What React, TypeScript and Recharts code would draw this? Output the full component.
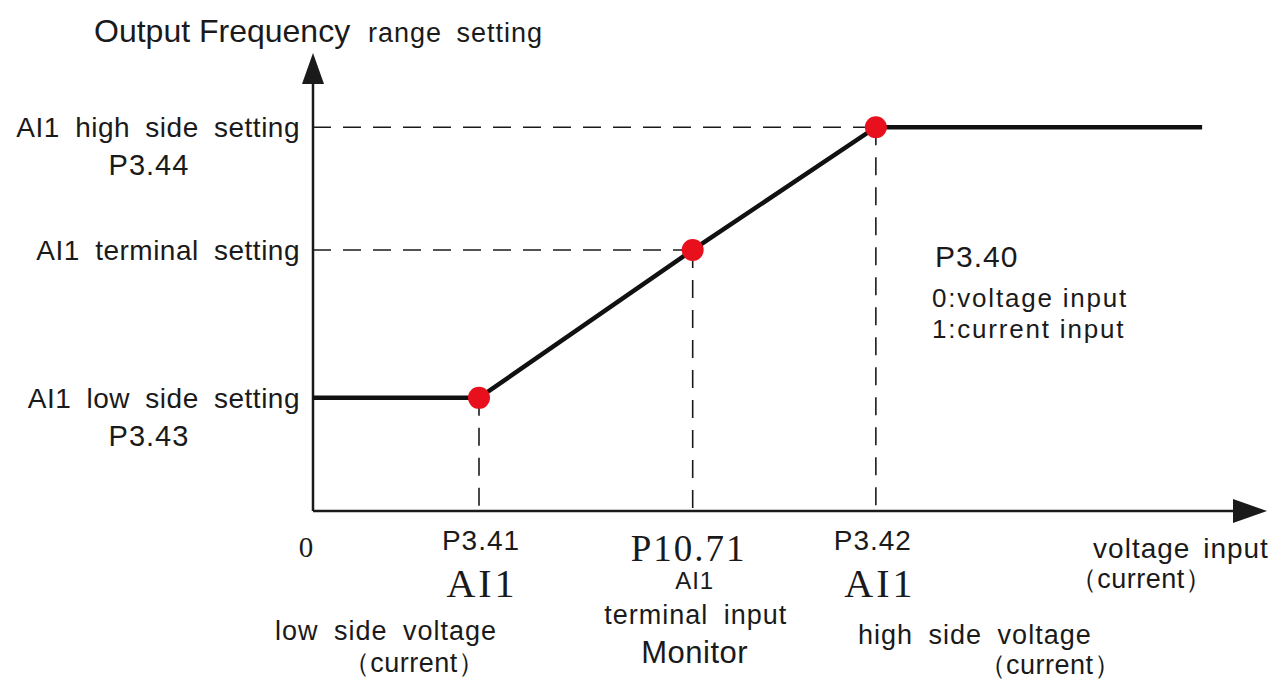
import { LineChart, Line, XAxis, YAxis, ReferenceLine } from 'recharts';

// input axis (0-100) and output frequency (0-100)
const inputX = [0, 17.4, 39.8, 59.0, 93.2];
const outputY = [24.7, 24.7, 57.0, 83.8, 83.8];
const markedIdx = [1, 2, 3];

const xTicks = [0, 17.4, 39.8, 59.0];
const xTickLabels = [
  ['0'],
  ['P3.41', 'AI1', 'low side voltage', '（current）'],
  ['P10.71', 'AI1', 'terminal input', 'Monitor'],
  ['P3.42', 'AI1', 'high side voltage', '（current）'],
];

const yTicks = [24.7, 57.0, 83.8];
const yTickLabels = [
  ['AI1 low side setting', 'P3.43'],
  ['AI1 terminal setting'],
  ['AI1 high side setting', 'P3.44'],
];

const data = inputX.map((x, i) => ({ x, y: outputY[i] }));

const SANS = '"Liberation Sans", Arial, sans-serif';
const SERIF = '"Liberation Serif", "Times New Roman", serif';
const INK = '#1a1a1a';

type LineStyle = { dx: number; dy: number; size: number; ls: number; serif?: boolean };

// layout of each line below the x ticks
const X_LINE_STYLE: LineStyle[][] = [
  [{ dx: -7, dy: 46, size: 29, ls: 0, serif: true }],
  [
    { dx: 2, dy: 39, size: 28, ls: 1 },
    { dx: 3, dy: 86, size: 40, ls: 3, serif: true },
    { dx: -93, dy: 129, size: 27, ls: 1 },
    { dx: -65, dy: 161, size: 27, ls: 0.5 },
  ],
  [
    { dx: -4, dy: 50, size: 37, ls: 2, serif: true },
    { dx: 2, dy: 78, size: 24, ls: 1 },
    { dx: 3, dy: 113, size: 27, ls: 1 },
    { dx: 2, dy: 152, size: 31, ls: 0.5 },
  ],
  [
    { dx: -3, dy: 39, size: 28, ls: 1 },
    { dx: 4, dy: 86, size: 40, ls: 3, serif: true },
    { dx: 99, dy: 133, size: 27, ls: 1 },
    { dx: 174, dy: 163, size: 27, ls: 0.5 },
  ],
];

const XTick = ({ x, y, payload }: any) => {
  const i = xTicks.indexOf(payload.value);
  if (i < 0) return null;
  return (
    <g>
      {xTickLabels[i].map((t, j) => {
        const s = X_LINE_STYLE[i][j];
        return (
          <text
            key={j}
            x={x + s.dx}
            y={y + s.dy}
            textAnchor="middle"
            fontFamily={s.serif ? SERIF : SANS}
            fontSize={s.size}
            letterSpacing={s.ls}
            wordSpacing={7}
            fill={INK}
          >
            {t}
          </text>
        );
      })}
    </g>
  );
};

const YTick = ({ x, y, payload }: any) => {
  const i = yTicks.indexOf(payload.value);
  if (i < 0) return null;
  const [first, second] = yTickLabels[i];
  return (
    <g>
      <text x={x - 13} y={y + 10} textAnchor="end" fontFamily={SANS} fontSize={28} letterSpacing={0.5} wordSpacing={7} fill={INK}>
        {first}
      </text>
      {second && (
        <text x={x - 164} y={y + 48} textAnchor="middle" fontFamily={SANS} fontSize={29} letterSpacing={1} fill={INK}>
          {second}
        </text>
      )}
    </g>
  );
};

const Dot = (props: any) => {
  const { cx, cy, index } = props;
  if (!markedIdx.includes(index)) return <g key={index} />;
  return <circle key={index} cx={cx} cy={cy} r={11} fill="#e8101c" />;
};

const Arrow = (props: any) => {
  const { x1, y1, x2, y2 } = props;
  const horizontal = Math.abs(y2 - y1) < 1;
  const head = horizontal
    ? `${x2},${y2} ${x2 - 34},${y2 - 12} ${x2 - 34},${y2 + 12}`
    : `${x2},${y2} ${x2 - 11},${y2 + 31} ${x2 + 11},${y2 + 31}`;
  return (
    <g>
      <line x1={x1} y1={y1} x2={horizontal ? x2 - 30 : x2} y2={horizontal ? y2 : y2 + 28} stroke={INK} strokeWidth={2.5} />
      <polygon points={head} fill={INK} />
    </g>
  );
};

export default function App() {
  return (
    <div style={{ position: 'absolute', left: 0, top: 0, width: 1282, height: 682, background: '#fff' }}>
      <LineChart width={1282} height={682} data={data} margin={{ top: 53, right: 15, bottom: 141, left: 253 }}>
        <XAxis
          dataKey="x"
          type="number"
          domain={[0, 100]}
          ticks={xTicks}
          tick={<XTick />}
          tickLine={false}
          axisLine={false}
          tickSize={0}
          tickMargin={0}
          height={30}
          interval={0}
        />
        <YAxis
          type="number"
          domain={[0, 100]}
          ticks={yTicks}
          tick={<YTick />}
          tickLine={false}
          axisLine={false}
          tickSize={0}
          tickMargin={0}
          width={60}
          interval={0}
        />

        {/* guide lines from the marked points to both axes */}
        {markedIdx.map((i) => (
          <ReferenceLine
            key={`h${i}`}
            segment={[{ x: 0, y: outputY[i] }, { x: inputX[i], y: outputY[i] }]}
            stroke={INK}
            strokeWidth={1.6}
            strokeDasharray="18 12"
            ifOverflow="visible"
          />
        ))}
        {markedIdx.map((i) => (
          <ReferenceLine
            key={`v${i}`}
            segment={[{ x: inputX[i], y: outputY[i] }, { x: inputX[i], y: 0 }]}
            stroke={INK}
            strokeWidth={1.6}
            strokeDasharray="18 12"
            ifOverflow="visible"
          />
        ))}

        <ReferenceLine segment={[{ x: 0, y: 0 }, { x: 100, y: 0 }]} shape={Arrow} ifOverflow="visible" />
        <ReferenceLine segment={[{ x: 0, y: 0 }, { x: 0, y: 100 }]} shape={Arrow} ifOverflow="visible" />

        <Line
          dataKey="y"
          type="linear"
          stroke="#111"
          strokeWidth={4.5}
          dot={Dot}
          activeDot={false}
          isAnimationActive={false}
        />

        <text y={42} fontFamily={SANS} fill={INK}>
          <tspan x={94} fontSize={32}>Output Frequency</tspan>
          <tspan x={368} fontSize={27} letterSpacing={1} wordSpacing={6}>range setting</tspan>
        </text>
        <text x={935} y={267} fontFamily={SANS} fontSize={30} letterSpacing={1} fill={INK}>P3.40</text>
        <text x={932} y={307} fontFamily={SANS} fontSize={26} letterSpacing={1.8} fill={INK}>0:voltage input</text>
        <text x={932} y={338} fontFamily={SANS} fontSize={26} letterSpacing={1.8} fill={INK}>1:current input</text>
        <text x={1181} y={558} textAnchor="middle" fontFamily={SANS} fontSize={28} letterSpacing={1} wordSpacing={4} fill={INK}>voltage input</text>
        <text x={1141} y={588} textAnchor="middle" fontFamily={SANS} fontSize={27} letterSpacing={0.5} fill={INK}>（current）</text>
      </LineChart>
    </div>
  );
}
